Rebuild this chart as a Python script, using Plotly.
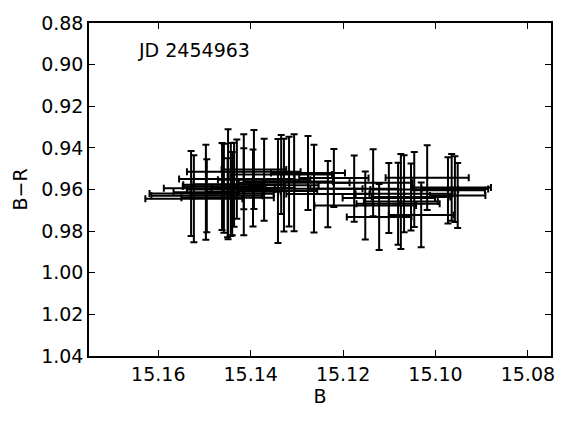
import plotly.graph_objects as go

# B magnitude, its error, B-R colour and its error
b_mag = [15.1529, 15.1523, 15.1497, 15.1495, 15.1462, 15.1458, 15.1449, 15.1443,
         15.1436, 15.1430, 15.1415, 15.1415, 15.1395, 15.1393, 15.1371, 15.1341,
         15.1334, 15.1328, 15.1317, 15.1306, 15.1276, 15.1263, 15.1233, 15.1220,
         15.1176, 15.1152, 15.1135, 15.1122, 15.1101, 15.1081, 15.1075, 15.1068,
         15.1053, 15.1046, 15.1031, 15.1018, 15.0973, 15.0958, 15.0952, 15.1450,
         15.1440, 15.0965]
b_err = [0.0090, 0.0105, 0.0070, 0.0120, 0.0085, 0.0130, 0.0075, 0.0095,
         0.0110, 0.0125, 0.0123, 0.0080, 0.0090, 0.0070, 0.0100, 0.0085,
         0.0110, 0.0075, 0.0095, 0.0120, 0.0080, 0.0105, 0.0090, 0.0075,
         0.0095, 0.0110, 0.0085, 0.0070, 0.0100, 0.0090, 0.0080, 0.0105,
         0.0085, 0.0095, 0.0070, 0.0090, 0.0080, 0.0072, 0.0060, 0.0100,
         0.0090, 0.0085]
br_col = [0.9619, 0.9644, 0.9613, 0.9630, 0.9585, 0.9594, 0.9575, 0.9600,
          0.9577, 0.9550, 0.9515, 0.9611, 0.9593, 0.9504, 0.9553, 0.9607,
          0.9528, 0.9579, 0.9562, 0.9567, 0.9521, 0.9596, 0.9622, 0.9545,
          0.9596, 0.9677, 0.9568, 0.9732, 0.9641, 0.9668, 0.9658, 0.9620,
          0.9636, 0.9600, 0.9722, 0.9543, 0.9604, 0.9598, 0.9629, 0.9640,
          0.9620, 0.9590]
br_err = [0.0204, 0.0209, 0.0228, 0.0175, 0.0209, 0.0214, 0.0264, 0.0224,
          0.0202, 0.0190, 0.0180, 0.0209, 0.0185, 0.0190, 0.0197, 0.0250,
          0.0190, 0.0223, 0.0216, 0.0233, 0.0178, 0.0211, 0.0159, 0.0139,
          0.0159, 0.0163, 0.0161, 0.0159, 0.0168, 0.0197, 0.0228, 0.0185,
          0.0161, 0.0180, 0.0156, 0.0156, 0.0159, 0.0158, 0.0156, 0.0190,
          0.0200, 0.0160]

x_ticks = [15.16, 15.14, 15.12, 15.10, 15.08]
y_ticks = [0.88, 0.90, 0.92, 0.94, 0.96, 0.98, 1.00, 1.02, 1.04]

font = dict(family="DejaVu Sans", size=19, color="black")

fig = go.Figure()

fig.add_trace(go.Scatter(
    x=b_mag,
    y=br_col,
    mode='markers',
    marker=dict(color='black', size=3),
    error_x=dict(type='data', array=b_err, color='black', thickness=2, width=3.5),
    error_y=dict(type='data', array=br_err, color='black', thickness=2, width=3.5),
    showlegend=False
))

fig.add_annotation(
    text="JD 2454963",
    xref='paper', yref='paper',
    x=0.102, y=0.92,
    xanchor='left', yanchor='middle',
    showarrow=False,
    font=font
)

axis_common = dict(
    showgrid=False,
    zeroline=False,
    showline=True,
    linecolor='black',
    linewidth=1.5,
    mirror='ticks',
    ticks='inside',
    ticklen=6,
    tickwidth=1,
    tickcolor='black',
    tickfont=font,
    tickformat='.2f',
    automargin=False,
)

# page body adds ~7px offset, so the figure is a bit smaller than the window
fig.update_layout(
    width=552,
    height=407,
    margin=dict(l=81, r=9, t=15, b=59),
    plot_bgcolor='white',
    paper_bgcolor='white',
    font=font,
    xaxis=dict(axis_common, range=[15.175, 15.075], tickvals=x_ticks,
               title=dict(text="B", font=font, standoff=6)),
    yaxis=dict(axis_common, range=[1.04, 0.88], tickvals=y_ticks,
               title=dict(text="B\u2212R", font=font, standoff=8)),
)

fig.write_html("out.html")
